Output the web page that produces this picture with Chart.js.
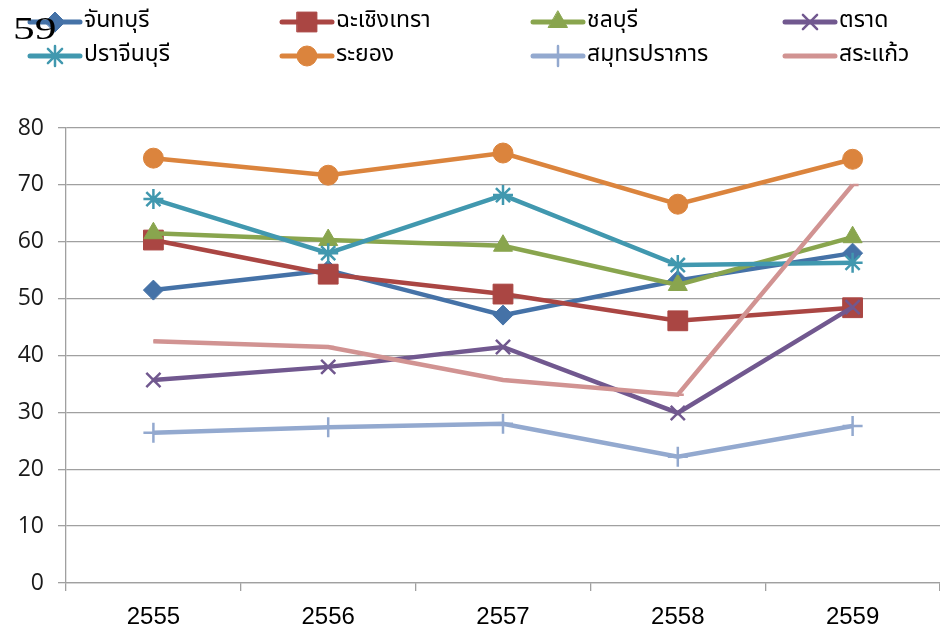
<!DOCTYPE html>
<html>
<head>
<meta charset="utf-8">
<script src="https://cdn.jsdelivr.net/npm/chart.js@4/dist/chart.umd.min.js"></script>
<style>
  html, body { margin: 0; padding: 0; background: #fff; }
  #wrap { width: 940px; height: 628px; position: relative; }
</style>
</head>
<body>
<div id="wrap"><canvas id="chart" width="940" height="628"></canvas></div>
<script>
// data
const years = ['2555', '2556', '2557', '2558', '2559'];
const yTicks = [0, 10, 20, 30, 40, 50, 60, 70, 80];

const chanthaburi = [51.5, 55.0, 47.1, 53.2, 58.0];
const chachoengsao = [60.3, 54.3, 50.8, 46.1, 48.4];
const chonburi = [61.5, 60.3, 59.3, 52.4, 60.8];
const trat = [35.7, 38.0, 41.5, 29.9, 48.5];
const prachinburi = [67.5, 58.0, 68.2, 55.9, 56.3];
const rayong = [74.7, 71.7, 75.6, 66.6, 74.5];
const samutprakan = [26.4, 27.4, 28.0, 22.2, 27.6];
const sakaeo = [42.5, 41.5, 35.7, 33.1, 70.0];

const series = [
  { label: 'จันทบุรี', data: chanthaburi, color: '#4572A7', style: 'rectRot', r: 10 },
  { label: 'ฉะเชิงเทรา', data: chachoengsao, color: '#AA4643', style: 'rect', r: 14 },
  { label: 'ชลบุรี', data: chonburi, color: '#89A54E', style: 'triangle', r: 11 },
  { label: 'ตราด', data: trat, color: '#71588F', style: 'crossRot', r: 10 },
  { label: 'ปราจีนบุรี', data: prachinburi, color: '#4198AF', style: 'star', r: 10 },
  { label: 'ระยอง', data: rayong, color: '#DB843D', style: 'circle', r: 10 },
  { label: 'สมุทรปราการ', data: samutprakan, color: '#93A9CF', style: 'cross', r: 10 },
  { label: 'สระแก้ว', data: sakaeo, color: '#D19392', style: 'dash', r: 6 }
];

const thaiFont = '"Noto Sans Thai", Tahoma, Loma, "Noto Sans", sans-serif';

// legend in a 4 x 2 grid, like the original
const gridLegend = {
  id: 'gridLegend',
  afterDraw(chart) {
    const ctx = chart.ctx;
    const colX = [30, 282, 533, 785];
    const rowY = [22, 56];
    chart.data.datasets.forEach((ds, i) => {
      const x = colX[i % 4];
      const y = rowY[Math.floor(i / 4)];
      ctx.save();
      ctx.strokeStyle = ds.borderColor;
      ctx.lineWidth = 5;
      ctx.lineCap = 'round';
      ctx.beginPath();
      ctx.moveTo(x, y);
      ctx.lineTo(x + 50, y);
      ctx.stroke();
      ctx.fillStyle = ds.borderColor;
      ctx.strokeStyle = ds.borderColor;
      ctx.lineWidth = ds.pointBorderWidth;
      Chart.helpers.drawPoint(ctx, {
        pointStyle: ds.pointStyle,
        radius: ds.pointRadius,
        rotation: 0,
        borderWidth: ds.pointBorderWidth
      }, x + 25, y);
      ctx.fillStyle = '#000';
      ctx.font = '23px ' + thaiFont;
      ctx.textBaseline = 'middle';
      ctx.textAlign = 'left';
      ctx.fillText(ds.label, x + 54, y);
      ctx.restore();
    });
    // stray page number in the top-left corner
    ctx.save();
    ctx.fillStyle = '#000';
    ctx.font = '31px "Liberation Serif", "DejaVu Serif", serif';
    ctx.textBaseline = 'alphabetic';
    ctx.translate(13, 39);
    ctx.scale(1.4, 1);
    ctx.fillText('59', 0, 0);
    ctx.restore();
  }
};

new Chart(document.getElementById('chart'), {
  type: 'line',
  data: {
    labels: years,
    datasets: series.map((s, i) => ({
      label: s.label,
      data: s.data,
      borderColor: s.color,
      backgroundColor: s.color,
      borderWidth: 4.5,
      pointStyle: s.style,
      pointRadius: s.r,
      pointHoverRadius: s.r,
      pointBorderWidth: ['crossRot', 'star', 'cross', 'dash'].includes(s.style) ? 2.5 : 1,
      pointBorderColor: s.color,
      pointBackgroundColor: s.color,
      tension: 0,
      order: series.length - i
    }))
  },
  options: {
    responsive: false,
    animation: false,
    layout: { autoPadding: false, padding: { top: 128, left: 0, right: 0, bottom: 0 } },
    plugins: { legend: { display: false }, tooltip: { enabled: false } },
    scales: {
      x: {
        offset: true,
        grid: { offset: true, drawOnChartArea: false, color: '#a0a0a0', lineWidth: 1.3, tickLength: 8 },
        border: { color: '#a0a0a0', width: 1.3 },
        ticks: {
          color: '#000',
          font: { family: '"Liberation Sans", Arial, sans-serif', size: 24 },
          padding: 12,
          maxRotation: 0
        },
        afterFit(scale) {
          scale.height = 45;
          scale.paddingLeft = 0;
          scale.paddingRight = 0;
        }
      },
      y: {
        min: 0,
        max: 80,
        afterBuildTicks(scale) { scale.ticks = yTicks.map(v => ({ value: v })); },
        grid: { color: '#a0a0a0', lineWidth: 1.3, tickLength: 8 },
        border: { color: '#a0a0a0', width: 1.3 },
        ticks: {
          color: '#1a1a1a',
          font: { family: '"Open Sans", "Noto Sans", sans-serif', size: 23 },
          padding: 14
        },
        afterFit(scale) { scale.width = 66; }
      }
    }
  },
  plugins: [gridLegend]
});
</script>
</body>
</html>
